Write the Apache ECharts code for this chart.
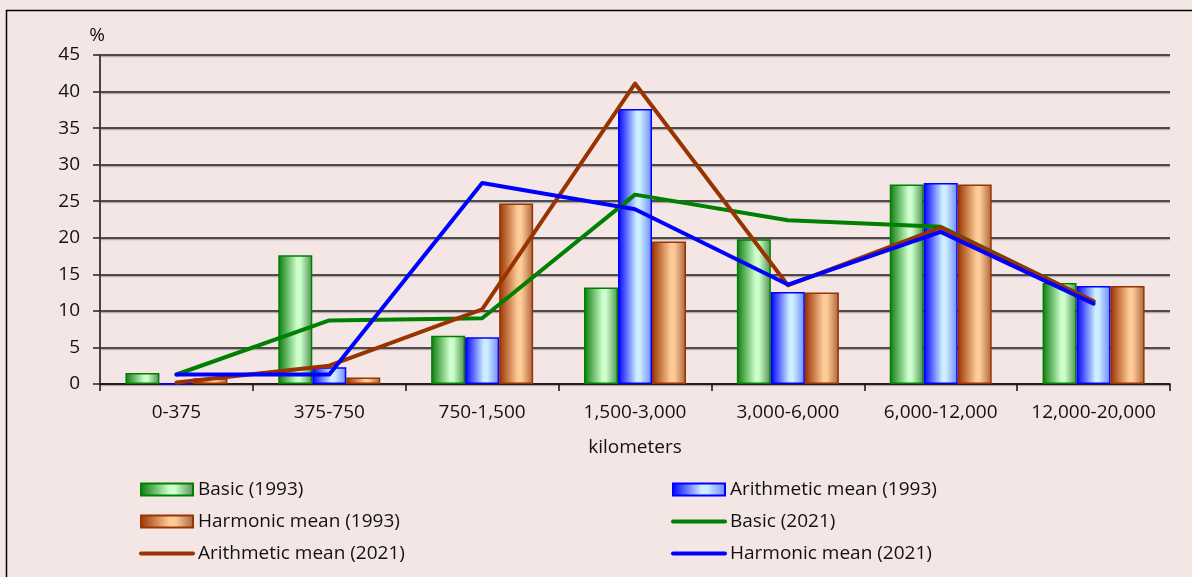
<!DOCTYPE html>
<html>
<head>
<meta charset="utf-8">
<script src="https://cdn.jsdelivr.net/npm/echarts@6/dist/echarts.min.js"></script>
<style>
  html, body { margin: 0; padding: 0; background: #f5e6e6; }
  #chart { width: 1192px; height: 577px; }
</style>
</head>
<body>
<div id="chart"></div>
<script>
// Distance bands (km)
const categories = ['0-375', '375-750', '750-1,500', '1,500-3,000', '3,000-6,000', '6,000-12,000', '12,000-20,000'];

// Share of flights per band, %
const basic1993 = [1.5, 17.6, 6.6, 13.2, 19.8, 27.3, 13.8];
const arith1993 = [0.1, 2.3, 6.4, 37.6, 12.6, 27.5, 13.4];
const harm1993  = [0.8, 0.9, 24.7, 19.5, 12.5, 27.3, 13.4];
const basic2021 = [1.3, 8.7, 9.0, 25.9, 22.4, 21.5, 11.3];
const arith2021 = [0.2, 2.5, 10.2, 41.1, 13.5, 21.4, 11.3];
const harm2021  = [1.3, 1.3, 27.5, 23.9, 13.6, 20.8, 11.0];

const yTicks = { min: 0, max: 45, step: 5 };

const font = '"Open Sans", "Liberation Sans", sans-serif';
const fontSize = 19;

function barFill(dark, light, mid) {
  return new echarts.graphic.LinearGradient(0, 0, 1, 0, [
    { offset: 0, color: dark },
    { offset: 0.55, color: light },
    { offset: 0.65, color: light },
    { offset: 1, color: mid }
  ]);
}

const chart = echarts.init(document.getElementById('chart'), null, { renderer: 'canvas' });

const barSeries = (name, data, fill, border) => ({
  name, type: 'bar', data,
  barWidth: 34, barGap: '0%',
  itemStyle: { color: fill, borderColor: border, borderWidth: 1.5 },
  z: 2
});

const lineSeries = (name, data, color, z) => ({
  name, type: 'line', data,
  symbol: 'none',
  lineStyle: { color, width: 4, cap: 'round', join: 'round' },
  itemStyle: { color },
  z
});

// legend entries: square-cornered swatch for bars, plain stroke for lines
const barEntry = (name) => ({ name, icon: 'rect' });
const lineEntry = (name) => ({ name, itemStyle: { opacity: 0 }, lineStyle: { width: 4 } });

const legendText = { fontFamily: font, fontSize, color: '#111' };

chart.setOption({
  backgroundColor: '#f5e6e6',
  animation: false,
  graphic: [{
    type: 'rect',
    shape: { x: 6.5, y: 10.5, width: 1400, height: 800 },
    style: { fill: 'none', stroke: '#000', lineWidth: 1.5 },
    silent: true
  }],
  grid: { left: 100, right: 22, top: 55, bottom: 193, containLabel: false },
  legend: [{
    orient: 'vertical',
    left: 134, top: 475,
    itemWidth: 52, itemHeight: 12, itemGap: 13,
    textStyle: legendText,
    selectedMode: false,
    data: [barEntry('Basic (1993)'), barEntry('Harmonic mean (1993)'), lineEntry('Arithmetic mean (2021)')]
  }, {
    orient: 'vertical',
    left: 666, top: 475,
    itemWidth: 52, itemHeight: 12, itemGap: 13,
    textStyle: legendText,
    selectedMode: false,
    data: [barEntry('Arithmetic mean (1993)'), lineEntry('Basic (2021)'), lineEntry('Harmonic mean (2021)')]
  }],
  xAxis: {
    type: 'category',
    data: categories,
    boundaryGap: true,
    name: 'kilometers',
    nameLocation: 'middle',
    nameGap: 54,
    nameTextStyle: { fontFamily: font, fontSize, color: '#111' },
    axisLine: { lineStyle: { color: '#111', width: 1.5 } },
    axisTick: { show: true, length: 7, lineStyle: { color: '#111', width: 1.5 } },
    axisLabel: { fontFamily: font, fontSize, color: '#111', margin: 19, interval: 0 }
  },
  yAxis: {
    type: 'value',
    min: yTicks.min, max: yTicks.max, interval: yTicks.step,
    name: '%',
    nameLocation: 'end',
    nameGap: 10,
    nameTextStyle: { fontFamily: font, fontSize, color: '#111', align: 'center', padding: [0, 6, 0, 0] },
    axisLine: { show: true, lineStyle: { color: '#444', width: 2 } },
    axisTick: { show: true, length: 7, lineStyle: { color: '#222', width: 1.5 } },
    axisLabel: { fontFamily: font, fontSize, color: '#111', margin: 20 },
    splitLine: {
      show: true,
      lineStyle: { color: '#1a1a1a', width: 1.5, shadowColor: 'rgba(0,0,0,0.25)', shadowOffsetY: 1.5 }
    }
  },
  series: [
    barSeries('Basic (1993)', basic1993, barFill('#0b7a0b', '#ccffcc', '#4f8f4f'), '#008000'),
    barSeries('Arithmetic mean (1993)', arith1993, barFill('#0000ff', '#cceeff', '#6a86ff'), '#0000ff'),
    barSeries('Harmonic mean (1993)', harm1993, barFill('#993300', '#ffcc99', '#a9643a'), '#993300'),
    lineSeries('Basic (2021)', basic2021, '#008000', 3),
    lineSeries('Arithmetic mean (2021)', arith2021, '#993300', 4),
    lineSeries('Harmonic mean (2021)', harm2021, '#0000ff', 5)
  ]
});
</script>
</body>
</html>
